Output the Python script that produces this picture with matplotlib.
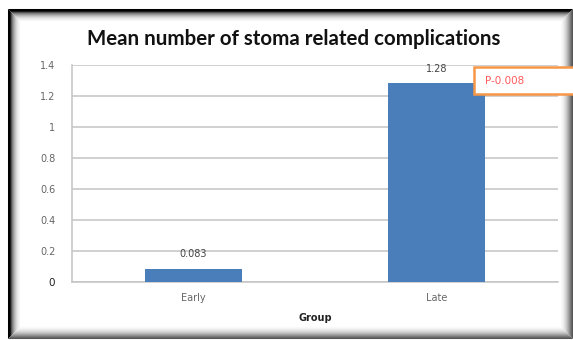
import matplotlib
matplotlib.use("Agg")
import matplotlib.pyplot as plt
from matplotlib.patches import Rectangle
from matplotlib.lines import Line2D

# Data
groups = ["Early", "Late"]
mean_complications = [0.083, 1.28]
value_labels = ["0.083", "1.28"]
y_ticks = [0, 0.2, 0.4, 0.6, 0.8, 1.0, 1.2, 1.4]
y_tick_labels = ["0", "0.2", "0.4", "0.6", "0.8", "1", "1.2", "1.4"]
p_value_text = "P-0.008"

W, H = 573, 340
fig = plt.figure(figsize=(W / 100, H / 100), dpi=100)
fig.patch.set_facecolor("white")

def px(x0, y0, x1, y1):
    """Figure-fraction rect from pixel box (origin top-left)."""
    return (x0 / W, 1 - y1 / H, (x1 - x0) / W, (y1 - y0) / H)

def hline(x0, x1, y, color):
    fig.lines.append(Line2D([x0 / W, x1 / W], [1 - y / H, 1 - y / H],
                            transform=fig.transFigure, color=color,
                            linewidth=0.75, solid_capstyle="butt"))

def vline(x, y0, y1, color):
    fig.lines.append(Line2D([x / W, x / W], [1 - y0 / H, 1 - y1 / H],
                            transform=fig.transFigure, color=color,
                            linewidth=0.75, solid_capstyle="butt"))

# Inset shadow frame: dark rule on the left/top, softer on the right/bottom
L, T, R, B = 7.5, 8.5, 571.5, 337.5
lt_shades = ["#000000", "#000000", "#1a1a1a", "#555555", "#7d7d7d", "#9a9a9a",
             "#b3b3b3", "#c8c8c8", "#d9d9d9", "#e6e6e6", "#f0f0f0", "#f7f7f7"]
rb_shades = ["#555555", "#686868", "#7c7c7c", "#919191", "#a5a5a5", "#b8b8b8",
             "#c9c9c9", "#d7d7d7", "#e3e3e3", "#ededed", "#f5f5f5", "#fafafa"]
for i in reversed(range(len(lt_shades))):
    hline(L + i, R - i, T + i, lt_shades[i])
    vline(L + i, T + i, B - i, lt_shades[i])
    hline(L + i, R - i, B - i, rb_shades[i])
    vline(R - i, T + i, B - i, rb_shades[i])

ax = fig.add_axes(px(72, 64.7, 558, 281.7))
ax.set_facecolor("none")
x = list(range(len(groups)))
ax.bar(x, mean_complications, width=0.4, color="#4a7ebb", zorder=3)
ax.set_xlim(-0.5, len(groups) - 0.5)
ax.set_ylim(0, 1.4)
ax.set_yticks(y_ticks)
ax.set_yticklabels(y_tick_labels)
ax.set_xticks(x)
ax.set_xticklabels(groups)
ax.tick_params(axis="both", length=0, labelsize=7, labelcolor="#666666")
ax.tick_params(axis="y", pad=12)
ax.tick_params(axis="x", pad=8)
ax.get_yticklabels()[0].set_color("#222222")
ax.get_yticklabels()[0].set_fontsize(7.5)
ax.yaxis.grid(True, color="#c4c4c4", linewidth=1.1, zorder=0)
for side in ("top", "right"):
    ax.spines[side].set_visible(False)
for side in ("left", "bottom"):
    ax.spines[side].set_color("#c4c4c4")
    ax.spines[side].set_linewidth(1.1)

for xi, v, lab in zip(x, mean_complications, value_labels):
    ax.annotate(lab, (xi, v), xytext=(0, 7), textcoords="offset points",
                ha="center", va="bottom", fontsize=7, color="#444444")

ax.set_xlabel("Group", fontsize=7, fontweight="bold", labelpad=7,
              color="#222222")

fig.text(294 / W, 1 - 39 / H, "Mean number of stoma related complications",
         ha="center", va="center", fontsize=14.8, fontweight="bold",
         family="Lato", color="#111111")

# p-value annotation box
l, b, w, h = px(474, 67, 580, 94)
fig.patches.append(Rectangle((l, b), w, h, transform=fig.transFigure,
                             facecolor="white", edgecolor="#f79646",
                             linewidth=1.8, zorder=5))
fig.text(485 / W, 1 - 81 / H, p_value_text, ha="left", va="center",
         fontsize=7.5, color="#ff5a5a", zorder=6)

fig.savefig("out.png", dpi=100)
